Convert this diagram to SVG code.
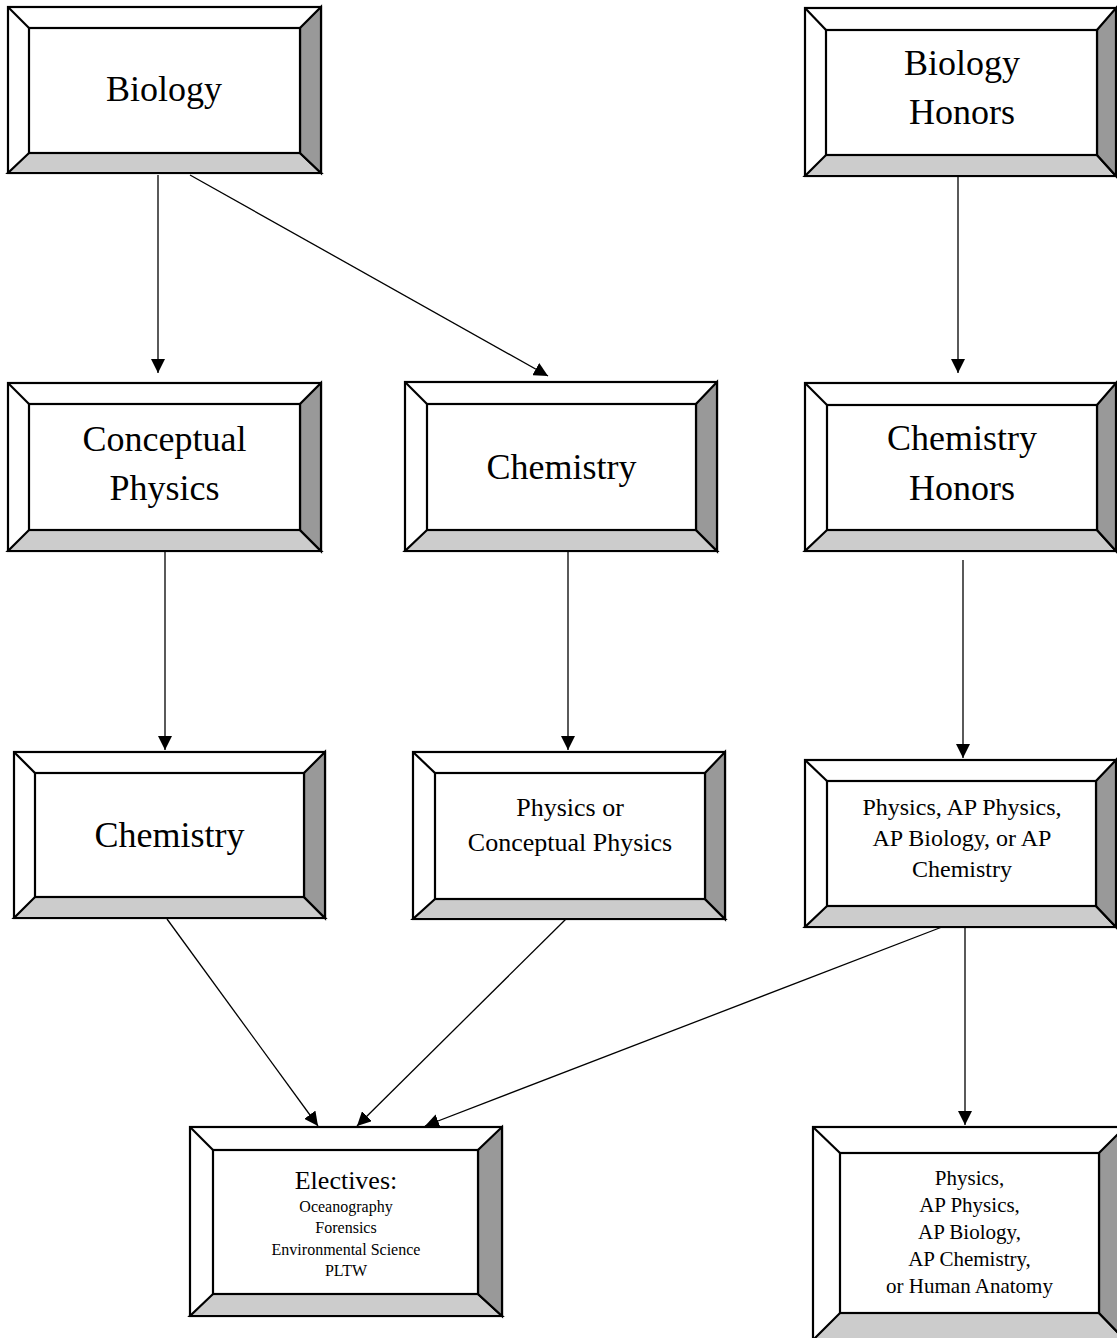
<svg xmlns="http://www.w3.org/2000/svg" width="1117" height="1338" viewBox="0 0 1117 1338">
<style>
.o{fill:#fff;stroke:#000;stroke-width:2.2}
.b{fill:#cccccc;stroke:#000;stroke-width:2.2;stroke-linejoin:miter}
.r{fill:#999999;stroke:#000;stroke-width:2.2;stroke-linejoin:miter}
.i{fill:#fff;stroke:#000;stroke-width:2.2}
.d{stroke:#000;stroke-width:2.2}
.t{font-family:"Liberation Serif","Times New Roman",serif;fill:#000;text-anchor:middle}
.c line{stroke:#000;stroke-width:1.3;marker-end:url(#ah)}
</style>
<defs>
<marker id="ah" viewBox="0 0 10 10" refX="10" refY="5" markerWidth="14" markerHeight="14" markerUnits="userSpaceOnUse" orient="auto">
<path d="M0,0 L10,5 L0,10 z" fill="#000"/>
</marker>
</defs>
<rect width="1117" height="1338" fill="#fff"/>

<g id="biology">
<rect class="o" x="8" y="7" width="313" height="166"/>
<polygon class="b" points="8,173 321,173 300,153 29,153"/>
<polygon class="r" points="321,7 321,173 300,153 300,28"/>
<line class="d" x1="8" y1="7" x2="29" y2="28"/>
<rect class="i" x="29" y="28" width="271" height="125"/>
<text class="t" x="164" y="101" font-size="36">Biology</text>
</g>

<g id="biology-honors">
<rect class="o" x="805" y="8" width="311" height="168"/>
<polygon class="b" points="805,176 1116,176 1097,155 826,155"/>
<polygon class="r" points="1116,8 1116,176 1097,155 1097,30"/>
<line class="d" x1="805" y1="8" x2="826" y2="30"/>
<rect class="i" x="826" y="30" width="271" height="125"/>
<text class="t" x="962" y="75" font-size="36">Biology</text>
<text class="t" x="962" y="124" font-size="36">Honors</text>
</g>

<g id="conceptual-physics">
<rect class="o" x="8" y="383" width="313" height="168"/>
<polygon class="b" points="8,551 321,551 300,530 29,530"/>
<polygon class="r" points="321,383 321,551 300,530 300,404"/>
<line class="d" x1="8" y1="383" x2="29" y2="404"/>
<rect class="i" x="29" y="404" width="271" height="126"/>
<text class="t" x="164.5" y="451" font-size="36">Conceptual</text>
<text class="t" x="164.5" y="500" font-size="36">Physics</text>
</g>

<g id="chemistry-1">
<rect class="o" x="405" y="382" width="312" height="169"/>
<polygon class="b" points="405,551 717,551 696,530 427,530"/>
<polygon class="r" points="717,382 717,551 696,530 696,404"/>
<line class="d" x1="405" y1="382" x2="427" y2="404"/>
<rect class="i" x="427" y="404" width="269" height="126"/>
<text class="t" x="561.5" y="479" font-size="36">Chemistry</text>
</g>

<g id="chemistry-honors">
<rect class="o" x="805" y="383" width="311" height="168"/>
<polygon class="b" points="805,551 1116,551 1097,530 827,530"/>
<polygon class="r" points="1116,383 1116,551 1097,530 1097,405"/>
<line class="d" x1="805" y1="383" x2="827" y2="405"/>
<rect class="i" x="827" y="405" width="270" height="125"/>
<text class="t" x="962" y="450" font-size="36">Chemistry</text>
<text class="t" x="962" y="500" font-size="36">Honors</text>
</g>

<g id="chemistry-2">
<rect class="o" x="14" y="752" width="311" height="166"/>
<polygon class="b" points="14,918 325,918 304,897 35,897"/>
<polygon class="r" points="325,752 325,918 304,897 304,773"/>
<line class="d" x1="14" y1="752" x2="35" y2="773"/>
<rect class="i" x="35" y="773" width="269" height="124"/>
<text class="t" x="169.5" y="847" font-size="36">Chemistry</text>
</g>

<g id="physics-or-conceptual">
<rect class="o" x="413" y="752" width="312" height="167"/>
<polygon class="b" points="413,919 725,919 705,899 435,899"/>
<polygon class="r" points="725,752 725,919 705,899 705,773"/>
<line class="d" x1="413" y1="752" x2="435" y2="773"/>
<rect class="i" x="435" y="773" width="270" height="126"/>
<text class="t" x="570" y="816" font-size="26">Physics or</text>
<text class="t" x="570" y="851" font-size="26">Conceptual Physics</text>
</g>

<g id="physics-ap">
<rect class="o" x="805" y="760" width="311" height="167"/>
<polygon class="b" points="805,927 1116,927 1096,906 827,906"/>
<polygon class="r" points="1116,760 1116,927 1096,906 1096,781"/>
<line class="d" x1="805" y1="760" x2="827" y2="781"/>
<rect class="i" x="827" y="781" width="269" height="125"/>
<text class="t" x="962" y="815" font-size="24">Physics, AP Physics,</text>
<text class="t" x="962" y="846" font-size="24">AP Biology, or AP</text>
<text class="t" x="962" y="877" font-size="24">Chemistry</text>
</g>

<g id="electives">
<rect class="o" x="190" y="1127" width="312" height="189"/>
<polygon class="b" points="190,1316 502,1316 478,1294 213,1294"/>
<polygon class="r" points="502,1127 502,1316 478,1294 478,1150"/>
<line class="d" x1="190" y1="1127" x2="213" y2="1150"/>
<rect class="i" x="213" y="1150" width="265" height="144"/>
<text class="t" x="346" y="1189" font-size="26">Electives:</text>
<text class="t" x="346" y="1212" font-size="16">Oceanography</text>
<text class="t" x="346" y="1233" font-size="16">Forensics</text>
<text class="t" x="346" y="1255" font-size="16">Environmental Science</text>
<text class="t" x="346" y="1276" font-size="16">PLTW</text>
</g>

<g id="advanced">
<rect class="o" x="813" y="1127" width="312" height="213"/>
<polygon class="b" points="813,1340 1125,1340 1099,1313 840,1313"/>
<polygon class="r" points="1125,1127 1125,1340 1099,1313 1099,1153"/>
<line class="d" x1="813" y1="1127" x2="840" y2="1153"/>
<rect class="i" x="840" y="1153" width="259" height="160"/>
<text class="t" x="969.5" y="1185" font-size="21">Physics,</text>
<text class="t" x="969.5" y="1212" font-size="21">AP Physics,</text>
<text class="t" x="969.5" y="1239" font-size="21">AP Biology,</text>
<text class="t" x="969.5" y="1266" font-size="21">AP Chemistry,</text>
<text class="t" x="969.5" y="1293" font-size="21">or Human Anatomy</text>
</g>

<g id="connectors" class="c">
<line x1="158" y1="175" x2="158" y2="373"/>
<line x1="190" y1="175" x2="548" y2="376"/>
<line x1="958" y1="177" x2="958" y2="373"/>
<line x1="165" y1="552" x2="165" y2="750"/>
<line x1="568" y1="551" x2="568" y2="750"/>
<line x1="963" y1="560" x2="963" y2="758"/>
<line x1="167" y1="919" x2="318" y2="1126"/>
<line x1="566" y1="919" x2="357" y2="1126"/>
<line x1="942" y1="927" x2="425" y2="1126"/>
<line x1="965" y1="928" x2="965" y2="1125"/>
</g>
</svg>
